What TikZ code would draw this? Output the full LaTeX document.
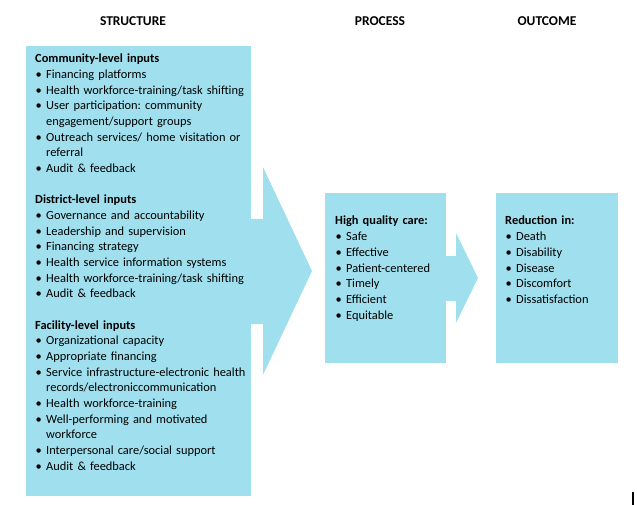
\documentclass[tikz,border=0pt]{standalone}
\usepackage{fontspec}
\setmainfont{Carlito}
\frenchspacing
\definecolor{boxblue}{HTML}{A0E0EE}
\tikzset{
  panel/.style={fill=boxblue, draw=none, inner sep=0pt, outer sep=0pt, anchor=north west},
  blocktext/.style={anchor=base west, inner sep=0pt, text width=280pt, align=left,
    font=\fontsize{12.4}{15.67}\selectfont\frenchspacing},
  colhead/.style={font=\fontsize{13.5}{16}\selectfont\bfseries, inner sep=0pt, anchor=base},
}
\newcommand\bl{\par\noindent\makebox[11pt][l]{\hspace{0.5pt}\textbullet}}
\newcommand\cont{\par\noindent\hspace{11pt}}
\begin{document}
\begin{tikzpicture}[x=1pt,y=-1pt]
\useasboundingbox (0,0) rectangle (637,505);
% column headings
\node[colhead] (hs) at (133,25.5) {STRUCTURE};
\node[colhead] (hp) at (380,25.5) {PROCESS};
\node[colhead] (ho) at (547,25.5) {OUTCOME};
% panels
\node[panel, minimum width=225pt, minimum height=450pt] (sbox) at (26,46) {};
\node[panel, minimum width=121pt, minimum height=170pt] (pbox) at (325,193) {};
\node[panel, minimum width=122pt, minimum height=170pt] (obox) at (496,193) {};
% block arrows
\coordinate (a1t) at (250,219);
\coordinate (a1b) at (250,324);
\fill[boxblue] (a1t) -- (263,219) -- (263,167) -- (312,271) -- (263,375) -- (263,324) -- (a1b) -- cycle;
\coordinate (a2t) at (445.5,256);
\coordinate (a2b) at (445.5,301);
\fill[boxblue] (a2t) -- (456,256) -- (456,233) -- (478,278) -- (456,323) -- (456,301) -- (a2b) -- cycle;
% structure texts
\node[blocktext] (comm) at (35,62.7) {\textbf{Community-level inputs}%
\bl Financing platforms
\bl Health workforce-training/task shifting
\bl User participation: community
\cont engagement/support groups
\bl Outreach services/ home visitation or
\cont referral
\bl Audit \& feedback};
\node[blocktext] (dist) at (35,203.7) {\textbf{District-level inputs}%
\bl Governance and accountability
\bl Leadership and supervision
\bl Financing strategy
\bl Health service information systems
\bl Health workforce-training/task shifting
\bl Audit \& feedback};
\node[blocktext] (fac) at (35,329.1) {\textbf{Facility-level inputs}%
\bl Organizational capacity
\bl Appropriate financing
\bl Service infrastructure-electronic health
\cont records/electroniccommunication
\bl Health workforce-training
\bl Well-performing and motivated
\cont workforce
\bl Interpersonal care/social support
\bl Audit \& feedback};
% process text
\node[blocktext, text width=110pt] (proc) at (335,225) {\textbf{High quality care:}%
\bl Safe
\bl Effective
\bl Patient-centered
\bl Timely
\bl Efficient
\bl Equitable};
% outcome text
\node[blocktext, text width=110pt] (outc) at (505,225) {\textbf{Reduction in:}%
\bl Death
\bl Disability
\bl Disease
\bl Discomfort
\bl Dissatisfaction};
% cursor mark
\fill (632,492) rectangle (633.5,505);
\end{tikzpicture}
\end{document}
